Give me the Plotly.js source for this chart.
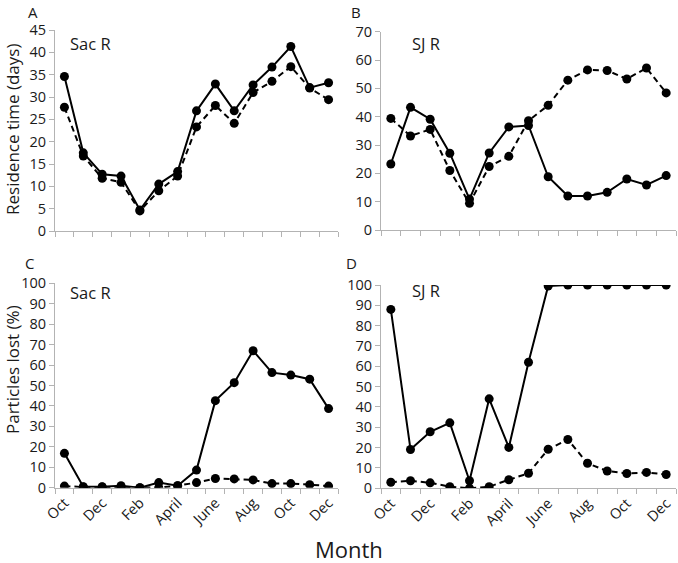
<!DOCTYPE html>
<html>
<head>
<meta charset="utf-8">
<script src="https://cdn.plot.ly/plotly-3.0.1.min.js"></script>
<style>html,body{margin:0;padding:0;background:#fff;}#chart{width:678px;height:563px;}</style>
</head>
<body>
<div id="chart"></div>
<script>
// Month index (Oct .. Dec of following year)
var monthIndex = [1,2,3,4,5,6,7,8,9,10,11,12,13,14,15];
var tickPositions = [1,3,5,7,9,11,13,15];
var tickLabels = ['Oct','Dec','Feb','April','June','Aug','Oct','Dec'];

// A: Sac R residence time (days)
var sacResSolid  = [34.6,17.5,12.7,12.3,4.7,10.5,13.3,26.9,32.9,26.9,32.7,36.7,41.3,32.1,33.2];
var sacResDashed = [27.7,16.8,11.8,10.9,4.5,9.0,12.3,23.3,28.1,24.1,31.0,33.5,36.8,32.0,29.4];
// B: SJ R residence time (days)
var sjResSolid   = [23.3,43.3,39.1,27.1,10.9,27.2,36.4,36.9,18.8,12.0,12.0,13.3,18.0,15.9,19.2];
var sjResDashed  = [39.4,33.2,35.5,21.0,9.4,22.4,26.0,38.6,44.0,52.9,56.5,56.3,53.3,57.2,48.4];
// C: Sac R particles lost (%)
var sacLostSolid  = [16.8,0.5,0.5,1.0,0.0,2.5,1.0,8.6,42.6,51.4,67.0,56.3,55.1,53.1,38.7];
var sacLostDashed = [0.8,0.3,0.3,0.3,0.0,0.0,1.0,2.5,4.5,4.3,3.8,2.0,2.0,1.5,0.8];
// D: SJ R particles lost (%)
var sjLostSolid  = [88.0,19.1,27.8,32.2,3.7,44.0,20.1,62.0,99.5,100,100,100,100,100,100];
var sjLostDashed = [3.0,3.7,2.7,0.8,0.0,0.8,4.2,7.4,19.2,24.0,12.3,8.5,7.3,7.8,6.8];

var W = 678, H = 563;
function fx(p){ return p / W; }
function fy(p){ return 1 - p / H; }

var FONT = 'Open Sans, Liberation Sans, sans-serif';
var AX = '#b3b3b3';
var TXT = '#1a1a1a';

function line(x, y, xa, ya, dashed){
  return {
    x: x, y: y, xaxis: xa, yaxis: ya, type: 'scatter', mode: 'lines+markers',
    line: {color: '#000', width: 2, dash: dashed ? '6px,4px' : 'solid'},
    marker: {color: '#000', size: 9, symbol: 'circle'},
    showlegend: false, hoverinfo: 'x+y'
  };
}

var data = [
  line(monthIndex, sacResDashed, 'x', 'y', true),
  line(monthIndex, sacResSolid, 'x', 'y', false),
  line(monthIndex, sjResDashed, 'x2', 'y2', true),
  line(monthIndex, sjResSolid, 'x2', 'y2', false),
  line(monthIndex, sacLostDashed, 'x3', 'y3', true),
  line(monthIndex, sacLostSolid, 'x3', 'y3', false),
  line(monthIndex, sjLostDashed, 'x4', 'y4', true),
  line(monthIndex, sjLostSolid, 'x4', 'y4', false)
];

function xaxis(domain, anchor, labels){
  return {
    domain: domain, anchor: anchor, range: [0.5, 15.5],
    showline: true, linecolor: AX, linewidth: 1, showgrid: false, zeroline: false,
    tickmode: 'array', tickvals: tickPositions, ticktext: tickLabels,
    ticks: '', showticklabels: labels, tickangle: -45,
    tickfont: {family: FONT, size: 14.5, color: TXT},
    minor: {tick0: 0.5, dtick: 1, ticks: 'outside', ticklen: 5, tickcolor: AX, tickwidth: 1, showgrid: false}
  };
}
function yaxis(domain, anchor, max, dtick){
  return {
    domain: domain, anchor: anchor, range: [0, max], dtick: dtick, tick0: 0,
    showline: true, linecolor: AX, linewidth: 1, showgrid: false, zeroline: false,
    ticks: 'outside', ticklen: 5, tickcolor: AX, tickwidth: 1,
    tickfont: {family: FONT, size: 14.5, color: TXT}
  };
}

function ann(text, px, py, size, extra){
  var a = {text: text, x: fx(px), y: fy(py), xref: 'paper', yref: 'paper',
           xanchor: 'center', yanchor: 'middle', showarrow: false,
           font: {size: size, family: FONT, color: TXT}};
  for (var k in (extra || {})) a[k] = extra[k];
  return a;
}

var layout = {
  width: W, height: H,
  margin: {l: 0, r: 0, t: 0, b: 0},
  paper_bgcolor: '#fff', plot_bgcolor: '#fff',
  font: {family: FONT, color: TXT},
  xaxis:  xaxis([fx(55), fx(338)], 'y', false),
  yaxis:  yaxis([fy(231), fy(30)], 'x', 45, 5),
  xaxis2: xaxis([fx(381), fx(676)], 'y2', false),
  yaxis2: yaxis([fy(230), fy(31.7)], 'x2', 70, 10),
  xaxis3: xaxis([fx(55), fx(338)], 'y3', true),
  yaxis3: yaxis([fy(487.7), fy(283.3)], 'x3', 100, 10),
  xaxis4: xaxis([fx(381), fx(676)], 'y4', true),
  yaxis4: yaxis([fy(488.3), fy(285)], 'x4', 100, 10),
  annotations: [
    ann('A', 33, 0, 15, {yanchor: 'top'}),
    ann('B', 356, 0, 15, {yanchor: 'top'}),
    ann('C', 29, 251, 15, {yanchor: 'top'}),
    ann('D', 351, 251, 15, {yanchor: 'top'}),
    ann('Sac R', 68, 43, 16.5, {xanchor: 'left'}),
    ann('SJ R', 410, 43, 16.5, {xanchor: 'left'}),
    ann('Sac R', 68, 292, 16.5, {xanchor: 'left'}),
    ann('SJ R', 410, 290, 16.5, {xanchor: 'left'}),
    ann('Residence time (days)', 12, 130, 17, {textangle: -90}),
    ann('Particles lost (%)', 12, 370, 17, {textangle: -90}),
    ann('Month', 349, 549, 22)
  ]
};

Plotly.newPlot('chart', data, layout, {displayModeBar: false, staticPlot: true});
</script>
</body>
</html>
